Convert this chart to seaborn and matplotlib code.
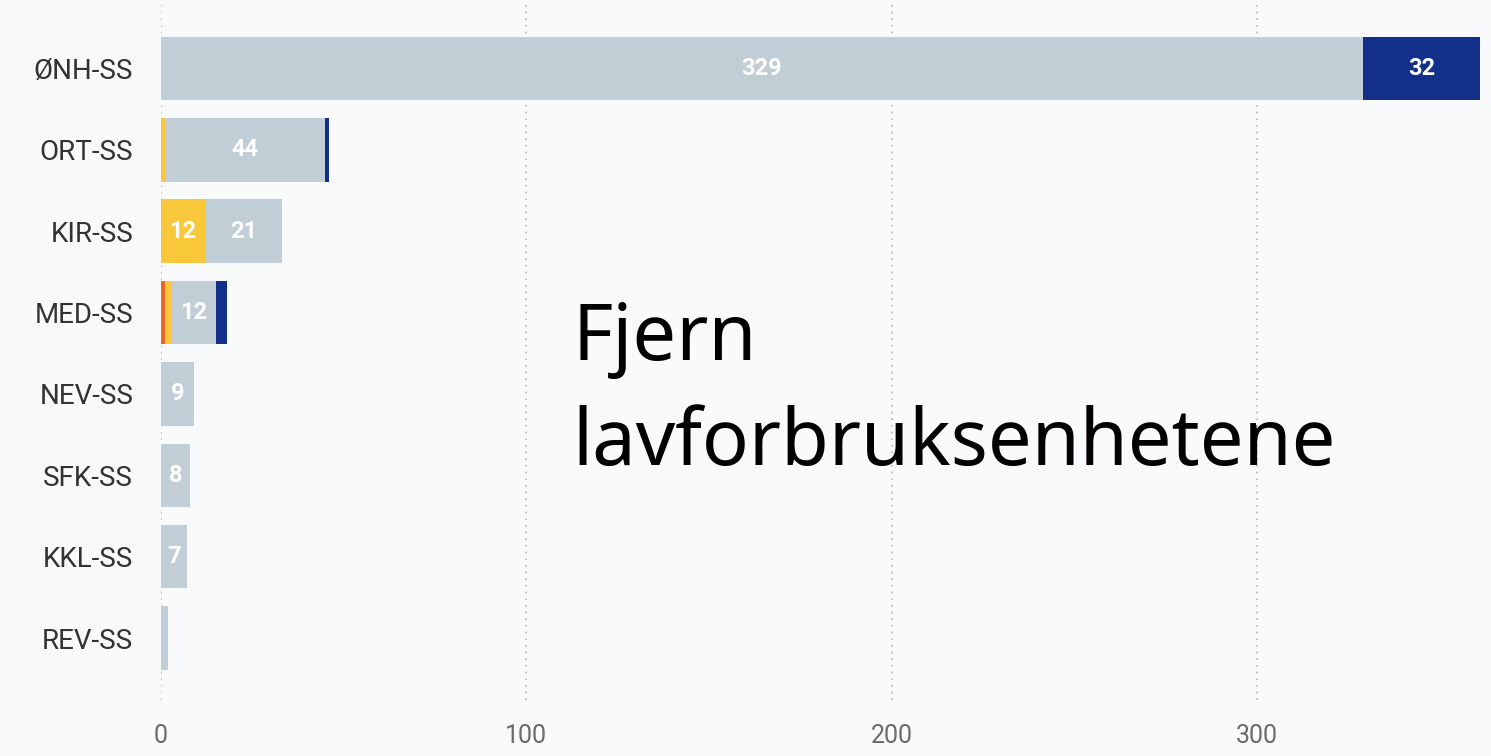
import matplotlib
matplotlib.use("Agg")
import matplotlib.pyplot as plt
import seaborn as sns
import pandas as pd
import numpy as np

categories = ["ØNH-SS", "ORT-SS", "KIR-SS", "MED-SS", "NEV-SS", "SFK-SS", "KKL-SS", "REV-SS"]
series_names = ["Rød", "Gul", "Grå", "Blå"]
red_vals = [0, 0, 0, 1, 0, 0, 0, 0]
yellow_vals = [0, 1, 12, 2, 0, 0, 0, 0]
grey_vals = [329, 44, 21, 12, 9, 8, 7, 2]
blue_vals = [32, 1, 0, 3, 0, 0, 0, 0]
x_ticks = [0, 100, 200, 300]
overlay_text = "Fjern\nlavforbruksenhetene"

colors = {"Rød": "#f0632a", "Gul": "#f9c73a", "Grå": "#c2ced6", "Blå": "#12308a"}

sns.set_theme(style="white")
plt.rcParams["font.family"] = ["Roboto", "DejaVu Sans"]

bg = "#f9fafc"
fig = plt.figure(figsize=(14.91, 7.56), dpi=100, facecolor=bg)
ax = fig.add_axes([161 / 1491, 1 - 700 / 756, (1480 - 161) / 1491, 700 / 756])
ax.set_facecolor(bg)

df = pd.DataFrame({"cat": categories, "Rød": red_vals, "Gul": yellow_vals,
                   "Grå": grey_vals, "Blå": blue_vals})

# stacked bars: draw cumulative totals from the back (largest) to the front
cum = np.zeros(len(categories))
stack_tops = []
for s in series_names:
    cum = cum + df[s].to_numpy(dtype=float)
    stack_tops.append(cum.copy())
for i, s in reversed(list(enumerate(series_names))):
    sns.barplot(x=stack_tops[i], y=df["cat"], color=colors[s], orient="h",
                width=0.78, ax=ax, saturation=1, zorder=3, linewidth=0,
                edgecolor="none")

# labels
start = np.zeros(len(categories))
for s in series_names:
    vals = df[s].to_numpy(dtype=float)
    for j, v in enumerate(vals):
        if v >= 5:
            ax.text(start[j] + v / 2, j, f"{int(v)}", ha="center", va="center",
                    color="white", fontsize=17, fontweight="bold", zorder=6)
    start = start + vals

ax.set_xlim(0, 361)
ax.set_ylim(7.76, -0.84)
ax.set_xticks(x_ticks)
ax.set_xticklabels([str(t) for t in x_ticks])
ax.xaxis.grid(True, linestyle=(0, (1, 3)), color="#b8b8b8", linewidth=1.2, zorder=0)
ax.yaxis.grid(False)
for sp in ax.spines.values():
    sp.set_visible(False)
ax.tick_params(axis="x", length=0, pad=17, labelsize=18, labelcolor="#6b6b6b")
ax.tick_params(axis="y", length=0, pad=20, labelsize=20, labelcolor="#333333")
ax.set_xlabel("")
ax.set_ylabel("")

fig.text(572 / 1491, 1 - 465 / 756, overlay_text, fontsize=56, color="black",
         ha="left", va="baseline", linespacing=1.43,
         family=["Noto Sans", "DejaVu Sans"])

fig.savefig("out.png", dpi=100, facecolor=bg)
